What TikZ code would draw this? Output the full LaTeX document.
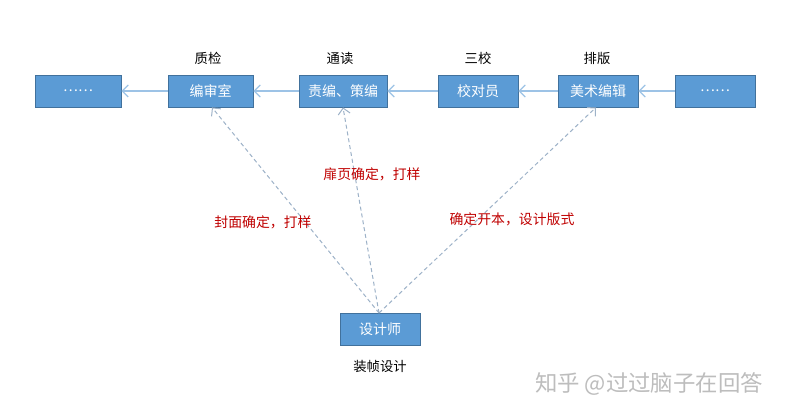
\documentclass[tikz,border=0pt]{standalone}
\usepackage{fontspec}
\setmainfont{Noto Sans CJK SC}
\usetikzlibrary{arrows.meta}
\definecolor{boxfill}{HTML}{5B9BD5}
\definecolor{boxline}{HTML}{41719C}
\definecolor{solidarr}{HTML}{9DC3E6}
\definecolor{dasharr}{HTML}{9DB2C8}
\definecolor{redtxt}{HTML}{C00000}
\definecolor{wmark}{HTML}{BDBDBD}
\tikzset{
  rolebox/.style={draw=boxline, line width=0.6pt, fill=boxfill, text=white,
    minimum height=24pt, inner sep=0pt, font=\fontsize{10.5pt}{12pt}\selectfont},
  stagelabel/.style={font=\fontsize{10pt}{12pt}\selectfont, text=black},
  notelabel/.style={font=\fontsize{10.4pt}{12pt}\selectfont, text=redtxt},
  flow/.style={draw=solidarr, line width=0.9pt, -{Straight Barb[length=4.5pt,width=9pt]}},
  feed/.style={draw=dasharr, line width=0.75pt, dash pattern=on 3pt off 2.2pt,
    -{Straight Barb[length=4.5pt,width=9pt]}},
}
\begin{document}
\begin{tikzpicture}[x=0.75pt,y=-0.75pt]
\useasboundingbox[fill=white] (0,0) rectangle (788,417);
% boxes
\node[rolebox, minimum width=64.5pt] (b1) at (78,91) {……};
\node[rolebox, minimum width=63.75pt] (b2) at (210.5,91) {编审室};
\node[rolebox, minimum width=66pt] (b3) at (343,91) {责编、策编};
\node[rolebox, minimum width=60pt] (b4) at (478,91) {校对员};
\node[rolebox, minimum width=60pt] (b5) at (598,91) {美术编辑};
\node[rolebox, minimum width=60pt] (b6) at (715,91) {……};
\node[rolebox, minimum width=60pt] (d) at (380,329) {设计师};
% stage labels
\node[stagelabel] (l2) at (208,58) {质检};
\node[stagelabel] (l3) at (340,58) {通读};
\node[stagelabel] (l4) at (478,58) {三校};
\node[stagelabel] (l5) at (597,58) {排版};
\node[stagelabel] (ld) at (380,366) {装帧设计};
% solid flow
\draw[flow] (b6) -- (b5);
\draw[flow] (b5) -- (b4);
\draw[flow] (b4) -- (b3);
\draw[flow] (b3) -- (b2);
\draw[flow] (b2) -- (b1);
% dashed feeds
\coordinate (dt) at (379,313);
\draw[feed] (dt) -- (b2.south -| 212,0);
\draw[feed] (dt) -- (b3.south -| 343,0);
\draw[feed] (dt) -- (b5.south -| 596,0);
% notes
\node[notelabel] (n1) at (263,222) {封面确定，打样};
\node[notelabel] (n2) at (372,174) {扉页确定，打样};
\node[notelabel] (n3) at (512,219) {确定开本，设计版式};
% watermark
\node[font=\fontsize{16.8pt}{18pt}\selectfont, text=wmark] (wm) at (649,384) {知乎 @过过脑子在回答};
\end{tikzpicture}
\end{document}
